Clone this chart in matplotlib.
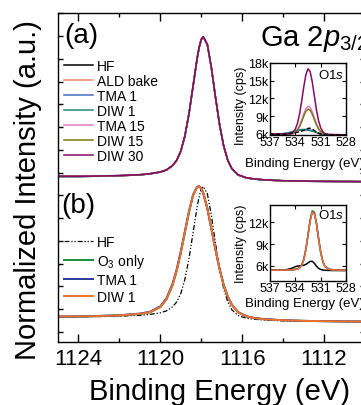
import matplotlib
matplotlib.use('Agg')
import matplotlib.pyplot as plt
from matplotlib.ticker import MultipleLocator, FuncFormatter

plt.rcParams['font.family'] = ['Liberation Sans', 'DejaVu Sans']
plt.rcParams['mathtext.fontset'] = 'custom'
plt.rcParams['mathtext.rm'] = 'Liberation Sans'
plt.rcParams['mathtext.it'] = 'Liberation Sans:italic'
plt.rcParams['mathtext.bf'] = 'Liberation Sans:bold'

# ---------------- main Ga 2p3/2 data (normalized intensity) ----------------
energy_ga = [1125.0, 1124.0, 1123.0, 1122.0, 1121.0, 1120.5, 1120.0, 1119.7, 1119.4, 1119.2,
             1119.0, 1118.8, 1118.6, 1118.4, 1118.2, 1118.1, 1118.0, 1117.9, 1117.7, 1117.5,
             1117.3, 1117.1, 1116.9, 1116.7, 1116.5, 1116.2, 1115.8, 1115.4, 1115.0, 1114.5,
             1114.0, 1113.0, 1112.0, 1111.0, 1110.0]

ga_hf = [0.038, 0.038, 0.040, 0.043, 0.049, 0.056, 0.068, 0.082, 0.112, 0.148,
         0.210, 0.315, 0.468, 0.659, 0.852, 0.929, 0.984, 1.003, 0.949, 0.785,
         0.581, 0.392, 0.246, 0.148, 0.090, 0.048, 0.028, 0.020, 0.015, 0.011,
         0.008, 0.005, 0.004, 0.003, 0.002]
ga_ald_bake = [0.039, 0.038, 0.041, 0.043, 0.050, 0.056, 0.069, 0.083, 0.113, 0.149,
               0.212, 0.317, 0.470, 0.660, 0.853, 0.930, 0.984, 1.002, 0.948, 0.784,
               0.582, 0.393, 0.247, 0.149, 0.091, 0.049, 0.028, 0.020, 0.015, 0.011,
               0.008, 0.005, 0.004, 0.003, 0.002]
ga_tma1 = [0.037, 0.038, 0.040, 0.044, 0.049, 0.057, 0.069, 0.083, 0.114, 0.150,
           0.213, 0.318, 0.471, 0.661, 0.854, 0.931, 0.985, 1.003, 0.948, 0.784,
           0.580, 0.391, 0.246, 0.148, 0.090, 0.048, 0.028, 0.019, 0.015, 0.011,
           0.008, 0.005, 0.004, 0.003, 0.002]
ga_diw1 = [0.038, 0.037, 0.040, 0.043, 0.049, 0.056, 0.068, 0.082, 0.112, 0.148,
           0.211, 0.316, 0.469, 0.659, 0.852, 0.929, 0.984, 1.002, 0.949, 0.786,
           0.582, 0.393, 0.247, 0.148, 0.090, 0.048, 0.028, 0.020, 0.015, 0.011,
           0.008, 0.005, 0.004, 0.003, 0.002]
ga_tma15 = [0.039, 0.039, 0.041, 0.044, 0.050, 0.057, 0.069, 0.083, 0.113, 0.149,
            0.212, 0.317, 0.470, 0.660, 0.852, 0.929, 0.983, 1.001, 0.948, 0.786,
            0.583, 0.394, 0.248, 0.150, 0.091, 0.049, 0.029, 0.020, 0.015, 0.011,
            0.008, 0.005, 0.004, 0.003, 0.002]
ga_diw15 = [0.038, 0.038, 0.040, 0.043, 0.049, 0.056, 0.068, 0.082, 0.112, 0.148,
            0.210, 0.315, 0.468, 0.658, 0.851, 0.929, 0.984, 1.003, 0.950, 0.786,
            0.582, 0.393, 0.247, 0.148, 0.090, 0.048, 0.028, 0.020, 0.015, 0.011,
            0.008, 0.005, 0.004, 0.003, 0.002]
ga_diw30 = [0.040, 0.039, 0.041, 0.044, 0.050, 0.057, 0.069, 0.084, 0.114, 0.150,
            0.213, 0.318, 0.471, 0.661, 0.853, 0.930, 0.984, 1.002, 0.949, 0.786,
            0.583, 0.394, 0.248, 0.150, 0.092, 0.050, 0.030, 0.021, 0.016, 0.012,
            0.009, 0.006, 0.004, 0.003, 0.002]

ga_b_o3 = [0.039, 0.040, 0.043, 0.048, 0.059, 0.072, 0.109, 0.166, 0.271, 0.376,
           0.508, 0.659, 0.810, 0.936, 0.999, 1.006, 0.992, 0.957, 0.842, 0.690,
           0.533, 0.391, 0.274, 0.187, 0.127, 0.073, 0.042, 0.029, 0.022, 0.017,
           0.013, 0.008, 0.006, 0.004, 0.003]
ga_b_tma1 = [0.040, 0.041, 0.045, 0.050, 0.062, 0.076, 0.116, 0.176, 0.284, 0.390,
             0.522, 0.672, 0.820, 0.942, 1.001, 1.004, 0.988, 0.952, 0.838, 0.688,
             0.532, 0.391, 0.274, 0.187, 0.127, 0.073, 0.042, 0.029, 0.022, 0.017,
             0.013, 0.008, 0.006, 0.004, 0.003]
ga_b_diw1 = [0.040, 0.041, 0.044, 0.049, 0.060, 0.073, 0.111, 0.169, 0.275, 0.380,
             0.512, 0.663, 0.813, 0.938, 1.000, 1.005, 0.990, 0.955, 0.840, 0.689,
             0.532, 0.390, 0.273, 0.186, 0.126, 0.072, 0.041, 0.028, 0.021, 0.016,
             0.013, 0.008, 0.006, 0.004, 0.003]

labels_a = ['HF', 'ALD bake', 'TMA 1', 'DIW 1', 'TMA 15', 'DIW 15', 'DIW 30']
labels_b = ['HF', r'O$_3$ only', 'TMA 1', 'DIW 1']

# ---------------- O 1s inset data (cps) ----------------
energy_o1s = [537.0, 536.5, 536.0, 535.5, 535.0, 534.5, 534.25, 534.0, 533.75, 533.5,
              533.25, 533.0, 532.75, 532.5, 532.25, 532.0, 531.75, 531.5, 531.25, 531.0,
              530.75, 530.5, 530.0, 529.5, 529.0, 528.5, 528.0]

o1s_a_hf = [5950, 5950, 5960, 5980, 6020, 6100, 6160, 6220, 6300, 6380,
            6470, 6620, 6800, 6950, 6980, 6850, 6600, 6330, 6120, 5980,
            5900, 5870, 5850, 5840, 5840, 5830, 5830]
o1s_a_ald = [6010, 6010, 6020, 6050, 6130, 6280, 6390, 6490, 6570, 6630,
             6660, 6670, 6660, 6630, 6570, 6490, 6380, 6250, 6130, 6040,
             5970, 5930, 5900, 5890, 5890, 5880, 5880]
o1s_a_tma1 = [6000, 6000, 6010, 6050, 6150, 6330, 6460, 6580, 6670, 6730,
              6760, 6770, 6750, 6720, 6650, 6560, 6430, 6280, 6140, 6030,
              5960, 5920, 5890, 5880, 5880, 5870, 5870]
o1s_a_diw1 = [5990, 5990, 6000, 6030, 6120, 6290, 6410, 6520, 6610, 6670,
              6700, 6710, 6690, 6660, 6600, 6510, 6390, 6250, 6120, 6020,
              5950, 5910, 5880, 5870, 5870, 5860, 5860]
o1s_a_tma15 = [6000, 6000, 6000, 6010, 6010, 6060, 6150, 6360, 6760, 7430,
               8360, 9400, 10280, 10700, 10510, 9770, 8730, 7710, 6910, 6390,
               6100, 5960, 5890, 5880, 5880, 5870, 5870]
o1s_a_diw15 = [5980, 5980, 5980, 5990, 5990, 6030, 6110, 6300, 6660, 7270,
               8100, 9040, 9830, 10200, 10030, 9370, 8450, 7550, 6840, 6380,
               6110, 5980, 5900, 5880, 5870, 5870, 5860]
o1s_a_diw30 = [6000, 6000, 6000, 6010, 6020, 6130, 6340, 6830, 7780, 9360,
               11540, 13980, 16040, 17030, 16580, 14850, 12450, 10090, 8240, 7040,
               6380, 6070, 5900, 5880, 5880, 5870, 5870]

o1s_b_hf = [5400, 5400, 5410, 5430, 5480, 5620, 5750, 5880, 5950, 6000,
            6030, 6080, 6200, 6400, 6600, 6620, 6350, 5950, 5650, 5500,
            5420, 5380, 5360, 5350, 5350, 5340, 5340]
o1s_b_o3 = [5420, 5420, 5420, 5430, 5440, 5460, 5480, 5510, 5570, 5720,
            6070, 6860, 8290, 10280, 12330, 13580, 13420, 11940, 9850, 7930,
            6640, 5940, 5530, 5450, 5430, 5420, 5420]
o1s_b_tma1 = [5410, 5410, 5410, 5420, 5430, 5450, 5470, 5500, 5570, 5730,
              6090, 6880, 8290, 10230, 12220, 13420, 13270, 11820, 9760, 7870,
              6600, 5910, 5510, 5440, 5420, 5410, 5410]
o1s_b_diw1 = [5400, 5400, 5400, 5410, 5420, 5440, 5460, 5490, 5550, 5700,
              6050, 6830, 8230, 10180, 12180, 13380, 13230, 11790, 9740, 7860,
              6590, 5900, 5500, 5430, 5410, 5400, 5400]

colors_a = ['black', '#f4866e', '#4a6cc4', '#1f8a82', '#e47cc4', '#7c7a14', '#860a6a']
colors_b = ['black', '#1a8a40', '#2a3a9c', '#f07030']

# stacking constants
offset_a, scale_a = 6.59, 6.36
offset_b, scale_b = 0.44, 5.93

W, H = 361, 406
fig = plt.figure(figsize=(W / 100, H / 100), dpi=100)
ax = fig.add_axes([58 / W, 1 - 343 / H, (364.9 - 58) / W, (343 - 14) / H])

series_a = [ga_hf, ga_ald_bake, ga_tma1, ga_diw1, ga_tma15, ga_diw15, ga_diw30]
handles_a = []
for vals, c, lab in zip(series_a, colors_a, labels_a):
    h, = ax.plot(energy_ga, [offset_a + scale_a * v for v in vals], color=c, lw=1.1, label=lab)
    handles_a.append(h)

series_b = [ga_hf, ga_b_o3, ga_b_tma1, ga_b_diw1]
handles_b = []
for i, (vals, c, lab) in enumerate(zip(series_b, colors_b, labels_b)):
    if i == 0:
        h, = ax.plot(energy_ga, [offset_b + scale_b * v for v in vals], color=c, lw=0.9,
                     ls=(0, (4, 1.5, 1, 1.5, 1, 1.5)), label=lab)
    else:
        h, = ax.plot(energy_ga, [offset_b + scale_b * v for v in vals], color=c, lw=1.4, label=lab)
    handles_b.append(h)

ax.set_xlim(1125, 1110)
ax.set_ylim(-0.44, 14.01)
ax.xaxis.set_major_locator(MultipleLocator(4))
ax.xaxis.set_minor_locator(MultipleLocator(2))
ax.set_yticks(range(0, 15))
ax.set_yticklabels([])
ax.tick_params(axis='x', which='major', direction='in', length=6, width=1, top=True,
               labelsize=16, pad=4)
ax.tick_params(axis='x', which='minor', direction='in', length=3, width=1, top=True)
ax.tick_params(axis='y', which='major', direction='in', length=3.5, width=1, right=True)
for s in ax.spines.values():
    s.set_linewidth(1.0)

leg_a = ax.legend(handles=handles_a, loc='upper left', bbox_to_anchor=(64 / W, 1 - 60 / H),
                  bbox_transform=fig.transFigure, frameon=False, fontsize=10,
                  handlelength=2.1, handletextpad=0.3, labelspacing=0.07,
                  borderpad=0, borderaxespad=0)
ax.add_artist(leg_a)
ax.legend(handles=handles_b, loc='upper left', bbox_to_anchor=(64 / W, 1 - 236 / H),
          bbox_transform=fig.transFigure, frameon=False, fontsize=10,
          handlelength=2.1, handletextpad=0.3, labelspacing=0.22,
          borderpad=0, borderaxespad=0)

fig.text(28 / W, 1 - 190 / H, 'Normalized Intensity (a.u.)', rotation=90,
         ha='center', va='center', fontsize=21)
fig.text(220 / W, 1 - 400 / H, 'Binding Energy (eV)', ha='center', va='baseline', fontsize=21)
fig.text(64 / W, 1 - 36 / H, '(a)', ha='left', va='center', fontsize=20)
fig.text(61 / W, 1 - 206 / H, '(b)', ha='left', va='center', fontsize=20)
fig.text(260 / W, 1 - 46 / H, r'Ga $\it{2p}_{\rm 3/2}$', ha='left', va='baseline', fontsize=21)

kfmt = FuncFormatter(lambda v, p: f'{int(round(v / 1000))}k')


def style_inset(axi, ylim, yticks, ycen, olab_y):
    axi.set_xlim(537, 528)
    axi.set_ylim(*ylim)
    axi.set_xticks([537, 534, 531, 528])
    axi.set_yticks(yticks)
    axi.yaxis.set_major_formatter(kfmt)
    axi.tick_params(direction='in', length=3, width=0.8, top=True, right=True,
                    labelsize=9, pad=1)
    for s in axi.spines.values():
        s.set_linewidth(1.0)
    axi.text((241 - 270) / 76, ycen, 'Intensity (cps)', rotation=90, ha='center', va='center',
             fontsize=9, transform=axi.transAxes)
    axi.text(0.98, olab_y, r'O$\it{1s}$', ha='right', va='center', fontsize=9.5,
             transform=axi.transAxes)


axi_a = fig.add_axes([270 / W, 1 - 136 / H, 76 / W, 72 / H])
ins_a = [o1s_a_ald, o1s_a_tma1, o1s_a_diw1, o1s_a_tma15, o1s_a_diw15, o1s_a_diw30]
for vals, c in zip(ins_a, colors_a[1:]):
    axi_a.plot(energy_o1s, vals, color=c, lw=1.1)
axi_a.plot(energy_o1s, o1s_a_hf, color='black', lw=1.0, ls=(0, (3, 1.5)))
style_inset(axi_a, (5830, 18000), [6000, 9000, 12000, 15000, 18000], 0.42, 0.84)
fig.text(304 / W, 1 - 164 / H, 'Binding Energy (eV)', ha='center', va='center', fontsize=9.5)

axi_b = fig.add_axes([270 / W, 1 - 282 / H, 76 / W, 76 / H])
axi_b.plot(energy_o1s, o1s_b_hf, color='black', lw=1.1)
for vals, c in zip([o1s_b_o3, o1s_b_tma1, o1s_b_diw1], colors_b[1:]):
    axi_b.plot(energy_o1s, vals, color=c, lw=1.1)
style_inset(axi_b, (3900, 14400), [6000, 9000, 12000], 0.5, 0.88)
fig.text(304 / W, 1 - 304 / H, 'Binding Energy (eV)', ha='center', va='center', fontsize=9.5)

fig.savefig('out.png', dpi=100)
